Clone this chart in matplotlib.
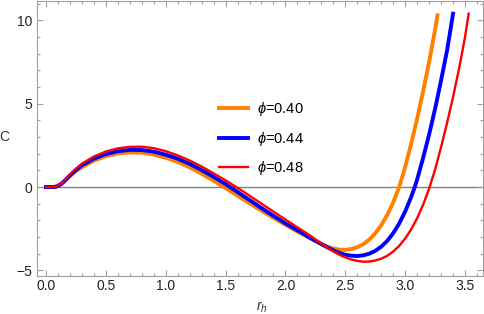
import numpy as np
import matplotlib
matplotlib.use('Agg')
import matplotlib.pyplot as plt
from matplotlib.ticker import MultipleLocator

plt.rcParams['font.family'] = ['Liberation Sans', 'DejaVu Sans']
plt.rcParams['mathtext.fontset'] = 'custom'
plt.rcParams['mathtext.rm'] = 'Liberation Sans'
plt.rcParams['mathtext.it'] = 'Liberation Sans:italic'

# values
r_040 = [0.00, 0.05, 0.075, 0.10, 0.125, 0.15, 0.175, 0.20, 0.25, 0.30, 0.40, 0.50, 0.60,
         0.70, 0.80, 0.90, 1.00, 1.10, 1.20, 1.30, 1.40, 1.50, 1.60, 1.70, 1.80, 1.90,
         2.00, 2.10, 2.20, 2.30, 2.35, 2.40, 2.45, 2.50, 2.55, 2.60, 2.65, 2.70, 2.75,
         2.80, 2.85, 2.90, 2.95, 3.00, 3.05, 3.10, 3.15, 3.20, 3.25, 3.27]
c_040 = [0.00, 0.00, 0.01, 0.06, 0.17, 0.31, 0.48, 0.65, 0.95, 1.20, 1.58, 1.85, 2.01,
         2.08, 2.06, 1.95, 1.76, 1.50, 1.18, 0.80, 0.38, -0.06, -0.52, -0.98, -1.42, -1.85,
         -2.27, -2.67, -3.06, -3.42, -3.57, -3.68, -3.76, -3.77, -3.72, -3.61, -3.43,
         -3.16, -2.78, -2.29, -1.68, -0.92, 0.00, 1.20, 2.60, 4.10, 5.75, 7.50, 9.45,
         10.30]

r_044 = [0.00, 0.05, 0.075, 0.10, 0.125, 0.15, 0.175, 0.20, 0.25, 0.30, 0.40, 0.50, 0.60,
         0.70, 0.80, 0.90, 1.00, 1.10, 1.20, 1.30, 1.40, 1.50, 1.60, 1.70, 1.80, 1.90,
         2.00, 2.10, 2.20, 2.30, 2.35, 2.40, 2.45, 2.50, 2.55, 2.60, 2.65, 2.70, 2.75,
         2.80, 2.85, 2.90, 2.95, 3.00, 3.05, 3.08, 3.10, 3.15, 3.20, 3.25, 3.30, 3.35,
         3.40]
c_044 = [0.00, 0.00, 0.01, 0.06, 0.18, 0.33, 0.51, 0.70, 1.02, 1.30, 1.70, 1.98, 2.15,
         2.23, 2.22, 2.12, 1.94, 1.70, 1.39, 1.02, 0.61, 0.18, -0.30, -0.78, -1.26, -1.73,
         -2.18, -2.60, -3.02, -3.42, -3.62, -3.80, -3.95, -4.06, -4.12, -4.14, -4.10,
         -4.00, -3.83, -3.58, -3.23, -2.77, -2.19, -1.47, -0.60, 0.00, 0.45, 1.75, 3.15,
         4.70, 6.40, 8.20, 10.40]

r_048 = [0.00, 0.05, 0.075, 0.10, 0.125, 0.15, 0.175, 0.20, 0.25, 0.30, 0.40, 0.50, 0.60,
         0.70, 0.80, 0.90, 1.00, 1.10, 1.20, 1.30, 1.40, 1.50, 1.60, 1.70, 1.80, 1.90,
         2.00, 2.10, 2.20, 2.30, 2.35, 2.40, 2.45, 2.50, 2.55, 2.60, 2.65, 2.70, 2.75,
         2.80, 2.85, 2.90, 2.95, 3.00, 3.05, 3.10, 3.15, 3.20, 3.25, 3.30, 3.35, 3.40,
         3.45, 3.50, 3.53]
c_048 = [0.00, 0.00, 0.01, 0.07, 0.19, 0.35, 0.55, 0.75, 1.10, 1.40, 1.83, 2.13, 2.32,
         2.41, 2.42, 2.33, 2.15, 1.90, 1.59, 1.23, 0.82, 0.40, -0.05, -0.52, -1.00, -1.48,
         -1.95, -2.42, -2.88, -3.40, -3.64, -3.87, -4.06, -4.22, -4.35, -4.43, -4.48,
         -4.47, -4.41, -4.30, -4.13, -3.87, -3.53, -3.09, -2.54, -1.87, -1.06, -0.10,
         1.05, 2.40, 3.85, 5.40, 7.10, 9.00, 10.40]

labels = [r'$\phi$=0.40', r'$\phi$=0.44', r'$\phi$=0.48']
colors = ['#FF8000', '#0000FF', '#FF0000']
widths = [2.8, 2.8, 1.7]

fig = plt.figure(figsize=(4.84, 3.14), dpi=100)
ax = fig.add_axes([37 / 484, 1 - 275.7 / 314, 446 / 484, 274.7 / 314])

ax.axhline(0, color='#808080', lw=1.0, zorder=1)
for r, c, col, lw, lab in zip([r_040, r_044, r_048], [c_040, c_044, c_048],
                              colors, widths, labels):
    ax.plot(r, c, color=col, lw=lw, label=lab, zorder=2, solid_joinstyle='round')

ax.set_xlim(-0.075, 3.65)
ax.set_ylim(-5.32, 11.16)

ax.xaxis.set_major_locator(MultipleLocator(0.5))
ax.xaxis.set_minor_locator(MultipleLocator(0.1))
ax.yaxis.set_major_locator(MultipleLocator(5))
ax.yaxis.set_minor_locator(MultipleLocator(1))
ax.xaxis.set_major_formatter(plt.FuncFormatter(lambda v, p: '%.1f' % v))
ax.yaxis.set_major_formatter(plt.FuncFormatter(lambda v, p: '%d' % v if v >= 0 else '\u2212%d' % -v))

for s in ax.spines.values():
    s.set_color('#a0a0a0')
    s.set_linewidth(0.8)
ax.tick_params(which='both', direction='in', top=True, right=True, color='#a0a0a0',
               labelsize=10, labelcolor='#222222', width=0.8)
ax.tick_params(which='major', length=4.5)
ax.tick_params(which='minor', length=2.5)
ax.tick_params(axis='x', pad=2.5)

ax.set_xlabel(r'$r_h$', fontsize=10, color='#333333')
ax.xaxis.set_label_coords(0.504, -0.088)
ax.set_ylabel('C', rotation=0, fontsize=10, color='#333333', va='center', ha='center')
ax.yaxis.set_label_coords(-0.074, 0.505)

ax.legend(loc='upper left', bbox_to_anchor=(219 / 484, 1 - 100 / 314),
          bbox_transform=fig.transFigure, frameon=False, fontsize=10.5,
          handlelength=2.0, handletextpad=0.6, labelspacing=0.8,
          borderpad=0, borderaxespad=0)

fig.savefig('out.png', dpi=100)
